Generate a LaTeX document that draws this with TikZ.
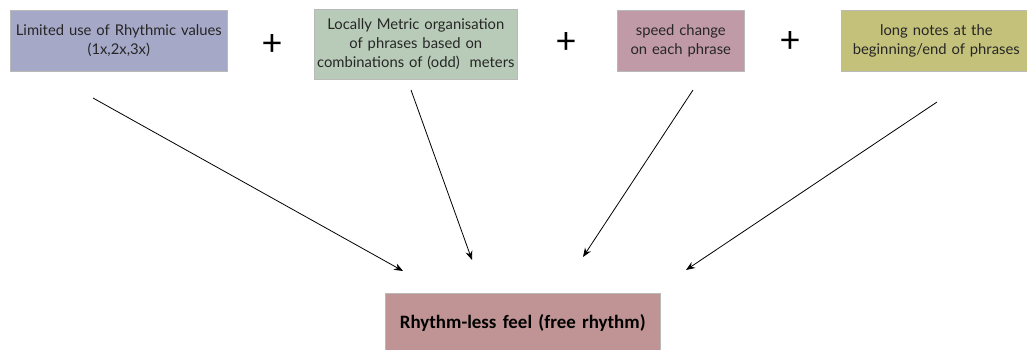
\documentclass[tikz,border=0pt]{standalone}
\usepackage{fontspec}
\setmainfont{Lato}
\newfontfamily\boldfam{Carlito}
\usetikzlibrary{arrows.meta}
\definecolor{cblue}{HTML}{A6A8C8}
\definecolor{cgreen}{HTML}{B8CBB8}
\definecolor{cmauve}{HTML}{C09AA6}
\definecolor{colive}{HTML}{C4C27A}
\definecolor{crose}{HTML}{C09494}
\tikzset{
  box/.style={draw=gray!55, line width=0.6pt, inner sep=0pt, align=center, anchor=north west, font=\fontsize{14.8}{19}\selectfont, text=black!85},
  plus/.style={font=\fontsize{36}{36}\selectfont, inner sep=0pt},
  arr/.style={-{Stealth[length=9pt,width=7pt]}, line width=0.8pt}
}
\begin{document}
\begin{tikzpicture}[x=1pt,y=-1pt]
\useasboundingbox (0,0) rectangle (1027,349);
\node[box, fill=cblue, minimum width=217pt, minimum height=61pt, text width=217pt] (b1) at (10,10) {Limited use of Rhythmic values\\(1x,2x,3x)};
\node[box, fill=cgreen, minimum width=203pt, minimum height=70pt, text width=203pt] (b2) at (314,9) {Locally Metric organisation\\of phrases based on\\combinations of (odd)\ \ meters};
\node[box, fill=cmauve, minimum width=127pt, minimum height=61pt, text width=127pt] (b3) at (617,10) {speed change\\on each phrase};
\node[box, fill=colive, minimum width=190pt, minimum height=61pt, text width=190pt] (b4) at (841,10) {long notes at the\\beginning/end of phrases};
\node[box, fill=crose, minimum width=275pt, minimum height=60pt, text width=275pt, font=\boldfam\bfseries\fontsize{18.9}{22}\selectfont, text=black] (out) at (385,293) {Rhythm-less feel (free rhythm)};
\node[plus] (p1) at (272,45) {+};
\node[plus] (p2) at (566,43) {+};
\node[plus] (p3) at (790,42) {+};
\coordinate (s1) at (93,98);
\coordinate (e1) at (403,271);
\coordinate (s2) at (411,90);
\coordinate (e2) at (472,260);
\coordinate (s3) at (693,90);
\coordinate (e3) at (583,257);
\coordinate (s4) at (937,102);
\coordinate (e4) at (686,270);
\draw[arr] (s1) -- (e1);
\draw[arr] (s2) -- (e2);
\draw[arr] (s3) -- (e3);
\draw[arr] (s4) -- (e4);
\end{tikzpicture}
\end{document}
